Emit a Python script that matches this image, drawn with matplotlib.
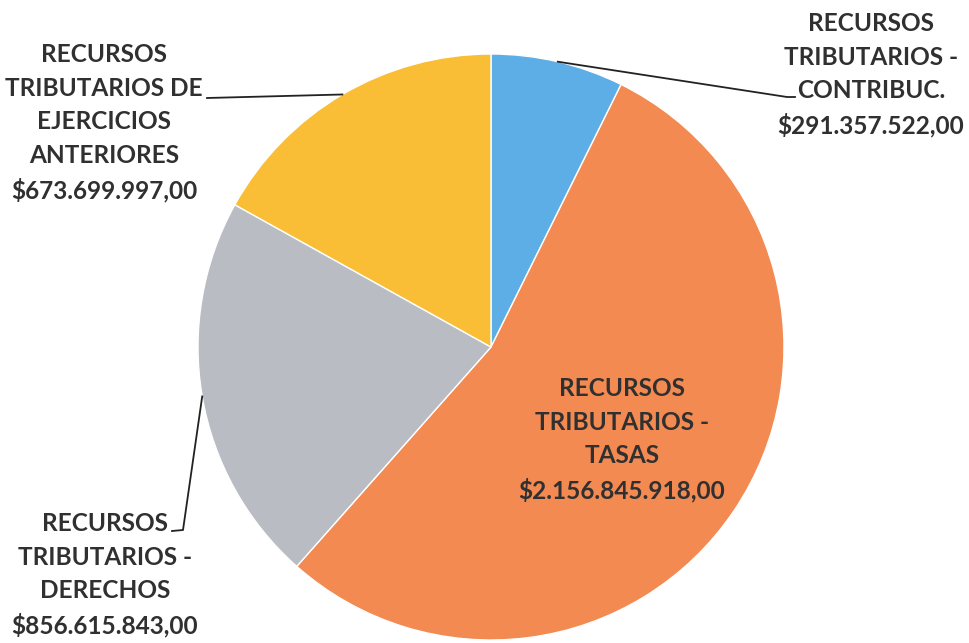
import numpy as np
import matplotlib.pyplot as plt

# datos del grafico (recursos tributarios)
etiquetas = ["RECURSOS\nTRIBUTARIOS -\nCONTRIBUC.",
             "RECURSOS\nTRIBUTARIOS -\nTASAS",
             "RECURSOS\nTRIBUTARIOS -\nDERECHOS",
             "RECURSOS\nTRIBUTARIOS DE\nEJERCICIOS\nANTERIORES"]
montos = [291357522.00, 2156845918.00, 856615843.00, 673699997.00]
textos_montos = ["$291.357.522,00", "$2.156.845.918,00", "$856.615.843,00", "$673.699.997,00"]
colores = ["#5DAEE6", "#F28A52", "#B9BCC3", "#F9BE36"]

plt.rcParams['font.family'] = ['Lato', 'DejaVu Sans']

W, H = 970, 643
fig = plt.figure(figsize=(W / 100, H / 100), dpi=100)
ax = fig.add_axes([0, 0, 1, 1])

cx, cy, r = 491, H - 347, 293
wedges, _ = ax.pie(montos, colors=colores, startangle=90, counterclock=False,
                   center=(cx, cy), radius=r, frame=True,
                   wedgeprops=dict(edgecolor="white", linewidth=1))
ax.set_xlim(0, W)
ax.set_ylim(0, H)
ax.set_aspect("equal")
ax.axis("off")

color_txt = "#303030"
# posicion de cada etiqueta (centro del bloque) y codo de la linea guia
pos_txt = [(871, H - 75), (622, H - 440), (105, H - 575), (104, H - 123)]
codo = [[(787, H - 97), (795, H - 97)], None,
        [(183, H - 530), (172, H - 531)], [(207, H - 98)]]

for i, w in enumerate(wedges):
    texto = etiquetas[i] + "\n" + textos_montos[i]
    ax.text(pos_txt[i][0], pos_txt[i][1], texto, ha="center", va="center",
            fontsize=17.6, fontweight="bold", color=color_txt, linespacing=1.55)
    if codo[i] is not None:
        ang = np.deg2rad((w.theta1 + w.theta2) / 2)
        px = cx + r * np.cos(ang)
        py = cy + r * np.sin(ang)
        xs = [px] + [p[0] for p in codo[i]]
        ys = [py] + [p[1] for p in codo[i]]
        ax.plot(xs, ys, color="#222222", linewidth=1.3)

fig.savefig("out.png", dpi=100)
